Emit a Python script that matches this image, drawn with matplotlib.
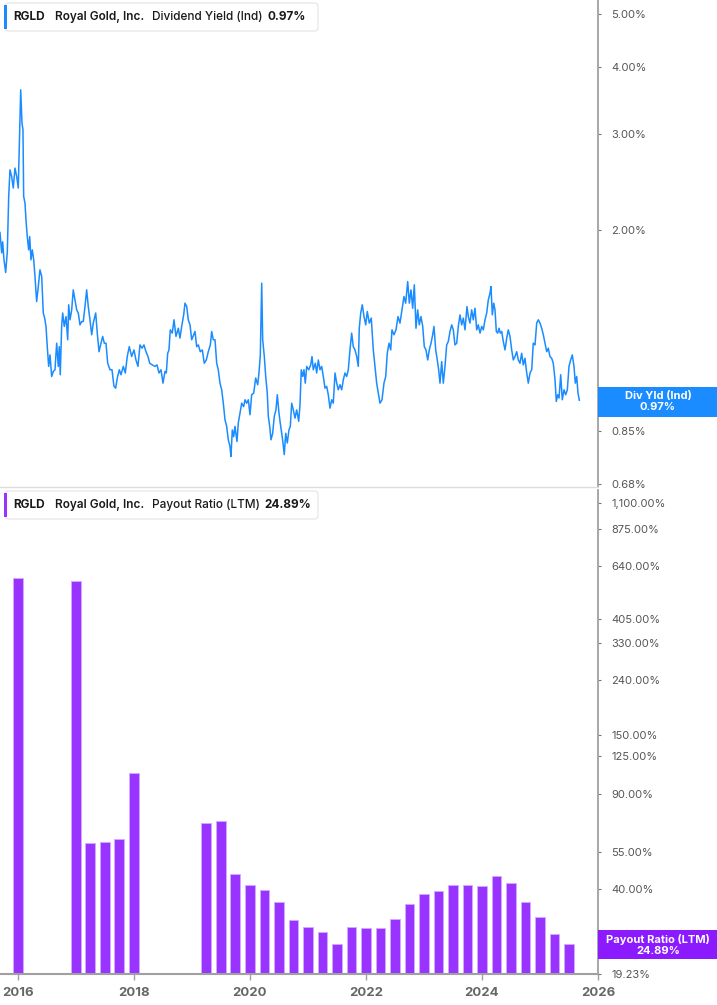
import matplotlib
matplotlib.use("Agg")
import matplotlib.pyplot as plt
from matplotlib.patches import Rectangle, FancyBboxPatch
from matplotlib.ticker import FixedLocator, FixedFormatter, NullLocator

plt.rcParams['font.family'] = ['Inter', 'DejaVu Sans']

# ---------------- data ----------------
yld_years = [
    2015.690, 2015.719, 2015.736, 2015.759, 2015.788, 2015.816, 2015.840, 2015.862, 2015.891, 2015.919,
    2015.948, 2015.978, 2016.005, 2016.022, 2016.047, 2016.069, 2016.086, 2016.098, 2016.121, 2016.138,
    2016.160, 2016.184, 2016.202, 2016.224, 2016.247, 2016.271, 2016.293, 2016.322, 2016.350, 2016.379,
    2016.409, 2016.436, 2016.460, 2016.483, 2016.505, 2016.529, 2016.552, 2016.581, 2016.609, 2016.638,
    2016.667, 2016.695, 2016.712, 2016.729, 2016.753, 2016.771, 2016.798, 2016.828, 2016.857, 2016.874,
    2016.897, 2016.926, 2016.953, 2016.983, 2017.012, 2017.040, 2017.069, 2017.098, 2017.126, 2017.155,
    2017.184, 2017.212, 2017.241, 2017.271, 2017.298, 2017.340, 2017.367, 2017.397, 2017.431, 2017.460,
    2017.488, 2017.517, 2017.547, 2017.586, 2017.621, 2017.655, 2017.684, 2017.712, 2017.747, 2017.776,
    2017.816, 2017.850, 2017.884, 2017.919, 2017.960, 2018.000, 2018.034, 2018.069, 2018.103, 2018.138,
    2018.172, 2018.207, 2018.241, 2018.271, 2018.316, 2018.362, 2018.397, 2018.431, 2018.466, 2018.500,
    2018.534, 2018.557, 2018.581, 2018.603, 2018.626, 2018.660, 2018.690, 2018.724, 2018.764, 2018.793,
    2018.822, 2018.857, 2018.879, 2018.909, 2018.936, 2018.966, 2018.995, 2019.029, 2019.052, 2019.081,
    2019.109, 2019.143, 2019.178, 2019.212, 2019.247, 2019.281, 2019.316, 2019.340, 2019.367, 2019.397,
    2019.426, 2019.453, 2019.483, 2019.512, 2019.540, 2019.569, 2019.598, 2019.626, 2019.655, 2019.672,
    2019.695, 2019.719, 2019.741, 2019.776, 2019.798, 2019.828, 2019.857, 2019.891, 2019.914, 2019.943,
    2019.971, 2020.000, 2020.029, 2020.064, 2020.098, 2020.133, 2020.155, 2020.178, 2020.202, 2020.219,
    2020.247, 2020.271, 2020.298, 2020.316, 2020.340, 2020.362, 2020.391, 2020.419, 2020.448, 2020.471,
    2020.500, 2020.522, 2020.547, 2020.569, 2020.591, 2020.616, 2020.643, 2020.672, 2020.695, 2020.719,
    2020.747, 2020.776, 2020.805, 2020.840, 2020.862, 2020.884, 2020.909, 2020.931, 2020.953, 2020.978,
    2021.012, 2021.047, 2021.069, 2021.091, 2021.126, 2021.150, 2021.178, 2021.207, 2021.236, 2021.264,
    2021.293, 2021.322, 2021.350, 2021.379, 2021.409, 2021.436, 2021.466, 2021.495, 2021.522, 2021.552,
    2021.581, 2021.609, 2021.638, 2021.667, 2021.695, 2021.724, 2021.753, 2021.781, 2021.810, 2021.840,
    2021.867, 2021.884, 2021.909, 2021.936, 2021.966, 2021.995, 2022.022, 2022.057, 2022.091, 2022.126,
    2022.155, 2022.184, 2022.212, 2022.241, 2022.276, 2022.310, 2022.340, 2022.367, 2022.397, 2022.426,
    2022.448, 2022.483, 2022.517, 2022.552, 2022.586, 2022.621, 2022.655, 2022.684, 2022.719, 2022.747,
    2022.776, 2022.805, 2022.833, 2022.862, 2022.891, 2022.919, 2022.948, 2022.978, 2023.005, 2023.034,
    2023.064, 2023.091, 2023.121, 2023.150, 2023.172, 2023.202, 2023.229, 2023.253, 2023.276, 2023.305,
    2023.333, 2023.362, 2023.391, 2023.419, 2023.448, 2023.478, 2023.505, 2023.534, 2023.564, 2023.591,
    2023.621, 2023.650, 2023.678, 2023.707, 2023.741, 2023.764, 2023.793, 2023.822, 2023.850, 2023.879,
    2023.909, 2023.936, 2023.966, 2023.995, 2024.022, 2024.052, 2024.081, 2024.109, 2024.138, 2024.155,
    2024.178, 2024.202, 2024.224, 2024.247, 2024.271, 2024.293, 2024.316, 2024.340, 2024.367, 2024.397,
    2024.426, 2024.453, 2024.483, 2024.512, 2024.540, 2024.569, 2024.598, 2024.626, 2024.655, 2024.684,
    2024.712, 2024.741, 2024.771, 2024.798, 2024.828, 2024.857, 2024.884, 2024.914, 2024.943, 2024.971,
    2025.000, 2025.029, 2025.057, 2025.086, 2025.116, 2025.143, 2025.172, 2025.202, 2025.229, 2025.259,
    2025.281, 2025.305, 2025.328, 2025.357, 2025.384, 2025.414, 2025.443, 2025.471, 2025.500, 2025.529,
    2025.557, 2025.586, 2025.609, 2025.633, 2025.655, 2025.678,
]
yld_values = [
    1.978, 1.814, 1.901, 1.761, 1.669, 1.824, 2.305, 2.581, 2.509, 2.389,
    2.600, 2.509, 2.389, 2.850, 3.626, 3.149, 3.059, 2.305, 2.241, 2.087,
    1.944, 1.837, 1.944, 1.761, 1.837, 1.761, 1.641, 1.475, 1.572, 1.688,
    1.641, 1.405, 1.375, 1.327, 1.218, 1.120, 1.176, 1.073, 1.096, 1.104,
    1.236, 1.120, 1.218, 1.081, 1.327, 1.405, 1.327, 1.384, 1.254, 1.455,
    1.365, 1.424, 1.550, 1.486, 1.424, 1.405, 1.336, 1.355, 1.355, 1.444,
    1.550, 1.444, 1.365, 1.281, 1.346, 1.405, 1.290, 1.192, 1.236, 1.272,
    1.236, 1.236, 1.135, 1.104, 1.104, 1.029, 1.021, 1.066, 1.104, 1.081,
    1.120, 1.089, 1.168, 1.218, 1.168, 1.201, 1.151, 1.120, 1.227, 1.210,
    1.227, 1.192, 1.168, 1.135, 1.127, 1.120, 1.127, 1.089, 1.104, 1.043,
    1.096, 1.089, 1.184, 1.201, 1.308, 1.290, 1.365, 1.272, 1.317, 1.263,
    1.327, 1.394, 1.465, 1.444, 1.365, 1.336, 1.254, 1.281, 1.299, 1.218,
    1.227, 1.192, 1.201, 1.135, 1.151, 1.192, 1.227, 1.299, 1.254, 1.254,
    1.135, 1.104, 1.043, 1.014, 0.958, 0.893, 0.868, 0.820, 0.797, 0.764,
    0.855, 0.831, 0.868, 0.814, 0.880, 0.918, 0.958, 0.944, 0.972, 0.958,
    0.972, 0.912, 0.993, 1.000, 1.066, 1.036, 1.089, 1.176, 1.595, 1.254,
    1.168, 1.073, 1.000, 0.906, 0.868, 0.820, 0.843, 0.906, 0.931, 0.993,
    0.918, 0.880, 0.843, 0.809, 0.770, 0.843, 0.809, 0.855, 0.868, 0.958,
    0.931, 0.899, 0.931, 0.887, 0.951, 1.104, 1.073, 1.104, 1.043, 1.120,
    1.104, 1.127, 1.168, 1.104, 1.135, 1.089, 1.151, 1.104, 1.120, 1.073,
    1.021, 1.029, 0.993, 0.938, 0.972, 0.958, 1.089, 1.043, 1.014, 1.036,
    1.014, 1.058, 1.089, 1.073, 1.104, 1.201, 1.290, 1.218, 1.201, 1.168,
    1.120, 1.317, 1.405, 1.455, 1.384, 1.336, 1.414, 1.346, 1.375, 1.201,
    1.120, 1.043, 1.000, 0.958, 0.972, 1.043, 1.073, 1.184, 1.236, 1.201,
    1.308, 1.281, 1.308, 1.384, 1.346, 1.424, 1.507, 1.465, 1.606, 1.465,
    1.550, 1.434, 1.584, 1.317, 1.424, 1.336, 1.384, 1.327, 1.218, 1.201,
    1.151, 1.201, 1.236, 1.281, 1.327, 1.201, 1.151, 1.104, 1.043, 1.143,
    1.043, 1.120, 1.227, 1.245, 1.299, 1.336, 1.308, 1.227, 1.236, 1.327,
    1.394, 1.336, 1.375, 1.308, 1.444, 1.384, 1.346, 1.424, 1.365, 1.434,
    1.308, 1.336, 1.290, 1.327, 1.308, 1.365, 1.405, 1.486, 1.528, 1.572,
    1.394, 1.465, 1.424, 1.299, 1.290, 1.317, 1.290, 1.299, 1.245, 1.201,
    1.263, 1.308, 1.272, 1.201, 1.151, 1.168, 1.192, 1.151, 1.135, 1.184,
    1.127, 1.159, 1.089, 1.043, 1.089, 1.104, 1.236, 1.227, 1.346, 1.365,
    1.346, 1.317, 1.281, 1.236, 1.192, 1.210, 1.168, 1.159, 1.135, 1.058,
    0.965, 0.993, 0.979, 1.081, 0.972, 1.014, 0.993, 1.014, 1.120, 1.151,
    1.176, 1.120, 1.043, 1.073, 1.000, 0.970,
]

payout_periods = [
    2016.00, 2017.00, 2017.25, 2017.50, 2017.75, 2018.00,
    2019.25, 2019.50, 2019.75, 2020.00, 2020.25, 2020.50, 2020.75,
    2021.00, 2021.25, 2021.50, 2021.75, 2022.00, 2022.25, 2022.50, 2022.75,
    2023.00, 2023.25, 2023.50, 2023.75, 2024.00, 2024.25, 2024.50, 2024.75,
    2025.00, 2025.25, 2025.50,
]
payout_values = [
    576.7, 558.6, 59.0, 59.8, 61.3, 108.4,
    70.0, 71.2, 45.5, 41.2, 39.5, 35.6, 30.5,
    28.7, 27.5, 24.9, 28.9, 28.5, 28.5, 30.8, 35.0,
    38.1, 39.2, 41.2, 41.2, 40.9, 44.7, 42.1, 35.8,
    31.4, 27.0, 24.89,
]

yld_ticks = [0.68, 0.85, 1.00, 2.00, 3.00, 4.00, 5.00]
payout_ticks = [19.23, 40.0, 55.0, 90.0, 125.0, 150.0, 240.0, 330.0, 405.0, 640.0, 875.0, 1100.0]
year_ticks = [2016, 2018, 2020, 2022, 2024, 2026]

ticker = "RGLD"
company = "Royal Gold, Inc."
yld_name = "Dividend Yield (Ind)"
yld_last = "0.97%"
payout_name = "Payout Ratio (LTM)"
payout_last = "24.89%"

# ---------------- styling ----------------
BLUE = '#1a8cff'
PURPLE = '#9933ff'
PURPLE_BOX = '#8c1aff'
AXIS_GREY = '#a0a0a0'
TICK_TXT = '#555555'

W, H = 717, 1005
fig = plt.figure(figsize=(W / 100, H / 100), dpi=100)
fig.patch.set_facecolor('white')

def fy(py):
    return 1 - py / H

XL = (2015.69, 2026.0)
ax_right_px = 598

ax1 = fig.add_axes([0, fy(487), ax_right_px / W, 487 / H])
ax2 = fig.add_axes([0, fy(974), ax_right_px / W, (974 - 490) / H])

# top: dividend yield line
ax1.plot(yld_years, yld_values, color=BLUE, lw=1.1, solid_joinstyle='round')
ax1.set_yscale('log')
ax1.set_ylim(0.671, 5.31)
ax1.set_xlim(*XL)

# bottom: payout bars
ax2.bar(payout_periods, payout_values, width=0.172, color=PURPLE,
        edgecolor='#d2a8ff', linewidth=0.7, bottom=0.0001)
ax2.set_yscale('log')
ax2.set_ylim(19.23, 1225)
ax2.set_xlim(*XL)

for ax, ticks, fmt in ((ax1, yld_ticks, lambda v: f"{v:.2f}%"),
                       (ax2, payout_ticks, lambda v: f"{v:,.2f}%")):
    ax.yaxis.tick_right()
    ax.yaxis.set_major_locator(FixedLocator(ticks))
    ax.yaxis.set_major_formatter(FixedFormatter([fmt(v) for v in ticks]))
    ax.yaxis.set_minor_locator(NullLocator())
    ax.tick_params(axis='y', which='major', direction='out', length=2.5, width=0.8,
                   color='#777777', labelsize=8, labelcolor=TICK_TXT, pad=7)
    for s in ('top', 'left'):
        ax.spines[s].set_visible(False)
    ax.spines['right'].set_color(AXIS_GREY)
    ax.spines['right'].set_linewidth(1.3)
    ax.set_facecolor('none')

ax1.spines['bottom'].set_color('#dddddd')
ax1.spines['bottom'].set_linewidth(1.0)
ax1.set_xticks([])
ax1.xaxis.set_minor_locator(NullLocator())

ax2.spines['bottom'].set_color(AXIS_GREY)
ax2.spines['bottom'].set_linewidth(1.5)
ax2.set_xticks(year_ticks)
ax2.set_xticklabels([str(y) for y in year_ticks])
ax2.xaxis.set_minor_locator(NullLocator())
ax2.tick_params(axis='x', direction='out', length=4, width=1, color=AXIS_GREY,
                labelsize=9.5, labelcolor='#666666', pad=5)
for lab in ax2.get_xticklabels():
    lab.set_fontweight('bold')

# ---------------- legends (header boxes) ----------------
def header(y_top, y_bot, bar_color, metric, last):
    box = FancyBboxPatch((5 / W, fy(y_bot)), (318 - 5) / W, (y_bot - y_top) / H,
                         boxstyle="round,pad=0,rounding_size=0.004",
                         transform=fig.transFigure, facecolor='white',
                         edgecolor='#e4e4e4', linewidth=0.8, zorder=5)
    fig.patches.append(box)
    fig.patches.append(Rectangle((3.5 / W, fy(y_bot - 2)), 3 / W, (y_bot - y_top - 4) / H,
                                 transform=fig.transFigure, facecolor=bar_color,
                                 edgecolor='none', zorder=6))
    yc = fy((y_top + y_bot) / 2)
    fig.text(13 / W, yc, ticker, fontsize=8.5, fontweight='bold', color='#1a1a1a',
             va='center', ha='left', zorder=7)
    fig.text(55 / W, yc, company, fontsize=8.5, fontweight='semibold', color='#1a1a1a',
             va='center', ha='left', zorder=7)
    fig.text(152 / W, yc, metric, fontsize=8.5, fontweight='medium', color='#1a1a1a',
             va='center', ha='left', zorder=7)
    return yc

yc1 = header(3, 31, BLUE, yld_name, yld_last)
fig.text(268 / W, yc1, yld_last, fontsize=8.5, fontweight='bold', color='#1a1a1a',
         va='center', ha='left', zorder=7)
yc2 = header(491, 519, PURPLE, payout_name, payout_last)
fig.text(264 / W, yc2, payout_last, fontsize=8.5, fontweight='bold', color='#1a1a1a',
         va='center', ha='left', zorder=7)

# ---------------- last-value tags ----------------
def tag(y_top, y_bot, color, line1, line2):
    fig.patches.append(Rectangle((598 / W, fy(y_bot)), (W - 598) / W, (y_bot - y_top) / H,
                                 transform=fig.transFigure, facecolor=color,
                                 edgecolor='none', zorder=8))
    fig.text(658 / W, fy(y_top + 9.5), line1, fontsize=8, fontweight='bold', color='white',
             va='center', ha='center', zorder=9)
    fig.text(658 / W, fy(y_top + 20.5), line2, fontsize=8, fontweight='bold', color='white',
             va='center', ha='center', zorder=9)

tag(387, 417, BLUE, "Div Yld (Ind)", yld_last)
tag(930, 959, PURPLE_BOX, payout_name, payout_last)

fig.savefig("out.png", dpi=100, facecolor='white')
